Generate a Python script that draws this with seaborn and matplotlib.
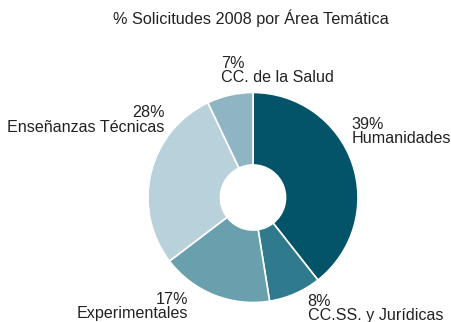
import matplotlib
matplotlib.use("Agg")
import matplotlib.pyplot as plt
import seaborn as sns

sns.set_theme(style="white")
plt.rcParams['font.family'] = ['Liberation Sans', 'DejaVu Sans']

areas = ["Humanidades", "CC.SS. y Jurídicas", "Experimentales",
         "Enseñanzas Técnicas", "CC. de la Salud"]
porcentajes = [39, 8, 17, 28, 7]
colores = ["#035468", "#2f7a8c", "#6a9fad", "#b9d1db", "#8fb5c4"]

# label anchor points (pie radius = 1) and horizontal alignment
label_pos = [(0.94, 0.63), (0.52, -1.06), (-0.62, -1.04), (-0.84, 0.74), (-0.30, 1.21)]
label_ha = ["left", "left", "right", "right", "left"]

fig = plt.figure(figsize=(4.52, 3.22), dpi=100)
ax = fig.add_axes([253/452 - 105/452, 1 - (197.5 + 105)/322, 210/452, 210/322])

ax.pie(porcentajes, colors=colores, startangle=90, counterclock=False,
       radius=1, wedgeprops=dict(width=0.69, edgecolor="white", linewidth=1.2))
ax.set_xlim(-1, 1)
ax.set_ylim(-1, 1)
ax.set_aspect("equal")
ax.axis("off")

for area, pct, (x, y), ha in zip(areas, porcentajes, label_pos, label_ha):
    ax.text(x, y, f"{pct}%\n{area}", ha=ha, va="center", fontsize=11.6,
            color="#222222", linespacing=0.95, clip_on=False,
            multialignment=ha)

fig.text(251/452, 1 - 18/322, "% Solicitudes 2008 por Área Temática",
         ha="center", va="center", fontsize=11.7, color="#222222")

fig.savefig("out.png", dpi=100)
